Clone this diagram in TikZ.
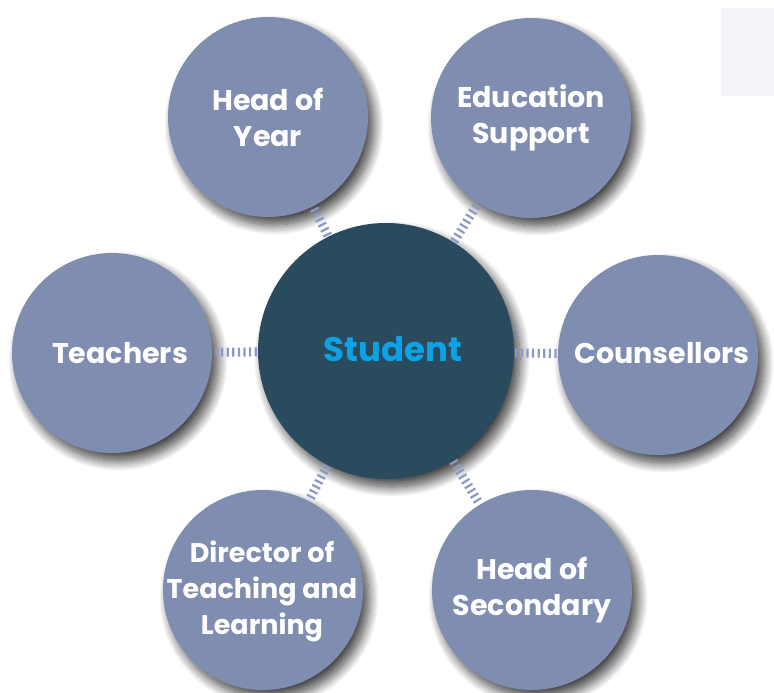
\documentclass[tikz,border=0pt]{standalone}
\usepackage{fontspec}
\setmainfont{Poppins}
\usetikzlibrary{shadows.blur}

\definecolor{ringblue}{HTML}{7F8DB0}
\definecolor{hubteal}{HTML}{2A4B5E}
\definecolor{hubtext}{HTML}{0BA3E6}
\definecolor{tickblue}{HTML}{8A99C6}
\definecolor{panelgray}{HTML}{F3F3F9}

\begin{document}
\begin{tikzpicture}[x=1pt,y=-1pt]
\tikzset{every node/.style={inner sep=0pt}}
\tikzset{role/.style={circle,fill=ringblue,minimum size=200pt,text=white,align=center,
  font=\fontsize{28.5}{36}\selectfont\bfseries,
  blur shadow={shadow xshift=6pt,shadow yshift=-8pt,shadow blur radius=10pt,shadow blur steps=14,shadow opacity=75}}}
\tikzset{hub/.style={circle,fill=hubteal,minimum size=256pt,
  blur shadow={shadow xshift=6pt,shadow yshift=-8pt,shadow blur radius=10pt,shadow blur steps=14,shadow opacity=75}}}
\tikzset{label/.style={text=white,align=center,font=\fontsize{28.5}{36}\selectfont\bfseries}}
\tikzset{link/.style={draw=tickblue,line width=9pt,dash pattern=on 2.2pt off 3.4pt,shorten <=1pt,shorten >=1pt}}
\useasboundingbox (0,0) rectangle (774,693);
\fill[panelgray] (721,8) rectangle (774,96);
% the six roles round the student
\node[role] (hoy) at (268,117) {Head of\\Year};
\node[role] (edu) at (531,118) {Education\\Support};
\node[role] (tch) at (112,353) {};
\node[role] (cou) at (658,355) {};
\node[role] (dir) at (263,590) {};
\node[role] (hos) at (532,590) {Head of\\Secondary};
\node[hub] (stu) at (386,351) {};
\node[text=hubtext,font=\fontsize{34}{40}\selectfont\bfseries] (stutxt) at (393,349) {Student};
\node[label] (tchtxt) at (120,353) {Teachers};
\node[label] (coutxt) at (662,353) {Counsellors};
\node[label,font=\fontsize{27}{36}\selectfont\bfseries] (dirtxt) at (262,591) {Director of\\Teaching and\\Learning};
% hatched links
\draw[link] (stu) -- (hoy);
\draw[link] (stu) -- (edu);
\draw[link] (stu) -- (tch);
\draw[link] (stu) -- (cou);
\draw[link] (stu) -- (dir);
\draw[link] (stu) -- (hos);
\end{tikzpicture}
\end{document}
